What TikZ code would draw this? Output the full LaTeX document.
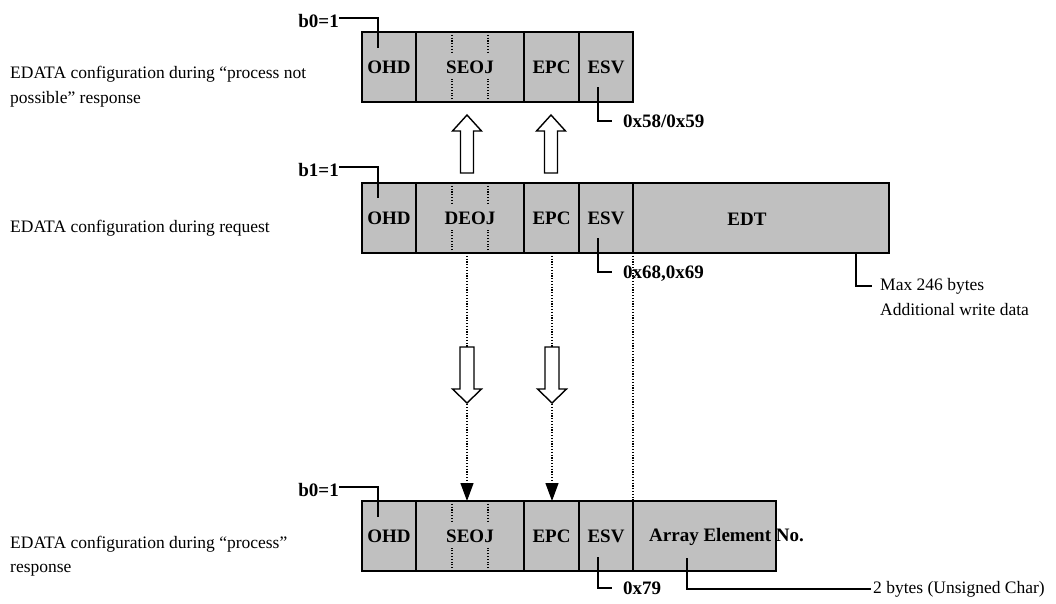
\documentclass[tikz,border=0pt]{standalone}
\usepackage{fontspec}
\setmainfont{Liberation Serif}
\usetikzlibrary{arrows.meta,calc}
\definecolor{boxgray}{RGB}{192,192,192}
\newcommand\lblfont{\fontsize{19}{22}\selectfont\bfseries}
\newcommand\txtfont{\fontsize{17.5}{21}\selectfont}
\begin{document}
\begin{tikzpicture}[x=1pt,y=-1pt,
  cell/.style={draw, fill=boxgray, line width=1.6pt, inner sep=0pt, outer sep=0pt,
    minimum height=70pt, font=\lblfont, text height=12.5pt, text depth=0pt},
  lab/.style={font=\lblfont, inner sep=0pt, text height=12.5pt, text depth=0pt},
  blab/.style={font=\lblfont, inner sep=0pt, text height=12.5pt, text depth=0pt, anchor=east},
  vlab/.style={font=\lblfont, inner ysep=0pt, inner xsep=11pt, text height=12.5pt, text depth=0pt, anchor=west},
  txt/.style={font=\txtfont, inner sep=0pt},
  lead/.style={line width=1.2pt},
  divdot/.style={line width=1.1pt, dash pattern=on 1.1pt off 1.7pt},
  dotline/.style={line width=1.2pt, dash pattern=on 1.2pt off 1.6pt},
  dotarrow/.style={dotline, -{Triangle[length=18pt,width=13pt]}},
  hollow/.style={draw, fill=white, line width=1.4pt, line join=miter},
  hollowup/.pic={\path[hollow] (-6.5,0) -- (-6.5,-42) -- (-14.5,-42) -- (0,-58) -- (14.5,-42) -- (6.5,-42) -- (6.5,0) -- cycle;},
  hollowdown/.pic={\path[hollow] (-7,0) -- (-7,42) -- (-14.5,42) -- (0,56) -- (14.5,42) -- (7,42) -- (7,0) -- cycle;}
]
\useasboundingbox (0,0) rectangle (1056,603);

% ---------- left descriptions ----------
\node[txt, anchor=base west] (d-t1) at (10,78) {EDATA configuration during “process not};
\node[txt, anchor=base west] (d-t2) at (10,103) {possible” response};
\node[txt, anchor=base west] (d-m) at (10,232) {EDATA configuration during request};
\node[txt, anchor=base west] (d-b1) at (10,548) {EDATA configuration during “process”};
\node[txt, anchor=base west] (d-b2) at (10,572) {response};

% ---------- top row ----------
\node[cell, minimum width=54pt] (t-ohd) at (389,67) {OHD};
\node[cell, minimum width=108pt] (t-seoj) at (470,67) {SEOJ};
\node[cell, minimum width=55pt] (t-epc) at (551.5,67) {EPC};
\node[cell, minimum width=54pt] (t-esv) at (606,67) {ESV};

% ---------- middle row ----------
\node[cell, minimum width=54pt] (m-ohd) at (389,218) {OHD};
\node[cell, minimum width=108pt] (m-deoj) at (470,218) {DEOJ};
\node[cell, minimum width=55pt] (m-epc) at (551.5,218) {EPC};
\node[cell, minimum width=54pt] (m-esv) at (606,218) {ESV};
\node[cell, minimum width=256pt] (m-edt) at (761,218) {};
\node[lab] (edt-txt) at (747,219) {EDT};

% ---------- bottom row ----------
\node[cell, minimum width=54pt] (b-ohd) at (389,536) {OHD};
\node[cell, minimum width=108pt] (b-seoj) at (470,536) {SEOJ};
\node[cell, minimum width=55pt] (b-epc) at (551.5,536) {EPC};
\node[cell, minimum width=54pt] (b-esv) at (606,536) {ESV};
\node[cell, minimum width=143pt] (b-arr) at (704.5,536) {};
\node[lab, anchor=west] (arr-txt) at (649,535) {Array Element No.};

% ---------- dotted dividers in EOJ cells ----------
\foreach \c in {t-seoj,m-deoj,b-seoj}{
  \foreach \f in {0.3333,0.6667}{
    \draw[divdot] ($(\c.north west)!\f!(\c.north east)$) -- ++(0,21);
    \draw[divdot] ($(\c.south west)!\f!(\c.south east)$) -- ++(0,-24);
  }
}

% ---------- bit labels and OHD leaders ----------
\node[blab] (lb-t) at (339,21) {b0=1};
\coordinate (ohd-t-end) at ($(t-ohd.north west)+(16,16)$);
\draw[lead] ([yshift=3pt]lb-t.east) -| (ohd-t-end);

\node[blab] (lb-m) at (339,170) {b1=1};
\coordinate (ohd-m-end) at ($(m-ohd.north west)+(16,15)$);
\draw[lead] ([yshift=3pt]lb-m.east) -| (ohd-m-end);

\node[blab] (lb-b) at (339,490) {b0=1};
\coordinate (ohd-b-end) at ($(b-ohd.north west)+(16,16)$);
\draw[lead] ([yshift=3pt]lb-b.east) -| (ohd-b-end);

% ---------- ESV leaders ----------
\coordinate (esv-t-start) at ($(t-esv.south west)+(19,-15)$);
\node[vlab] (v-t) at ($(t-esv.south west)+(33,19)$) {0x58/0x59};
\draw[lead] (esv-t-start) |- (v-t.west);

\coordinate (esv-m-start) at ($(m-esv.south west)+(19,-15)$);
\node[vlab] (v-m) at ($(m-esv.south west)+(33,19)$) {0x68,0x69};
\draw[lead] (esv-m-start) |- (v-m.west);

\coordinate (esv-b-start) at ($(b-esv.south west)+(19,-14)$);
\node[vlab] (v-b) at ($(b-esv.south west)+(33,17)$) {0x79};
\draw[lead] (esv-b-start) |- (v-b.west);

% ---------- EDT leader ----------
\coordinate (edt-start) at ($(m-edt.south west)+(223,0)$);
\node[txt, anchor=west, inner xsep=8pt] (max) at (872,286) {Max 246 bytes};
\node[txt, anchor=west] (addl) at (880,310) {Additional write data};
\draw[lead] (edt-start) |- (max.west);

% ---------- Array element leader ----------
\coordinate (arr-start) at ($(b-arr.south west)+(54,-13)$);
\node[txt, anchor=west, inner xsep=2pt] (two) at (871,589) {2 bytes (Unsigned Char)};
\draw[lead] (arr-start) |- (two.west);

% ---------- dotted connectors ----------
\coordinate (colA) at (467,0);
\coordinate (colB) at (552,0);
\draw[dotarrow] (m-deoj.south -| colA) -- (b-seoj.north -| colA);
\draw[dotarrow] (m-epc.south -| colB) -- (b-epc.north -| colB);
\draw[dotline] (m-esv.south east) -- (b-esv.north east);

% ---------- hollow arrows ----------
\pic at (467,173) {hollowup};
\pic at (551,173) {hollowup};
\pic at (467,347) {hollowdown};
\pic at (552,347) {hollowdown};
\end{tikzpicture}
\end{document}
